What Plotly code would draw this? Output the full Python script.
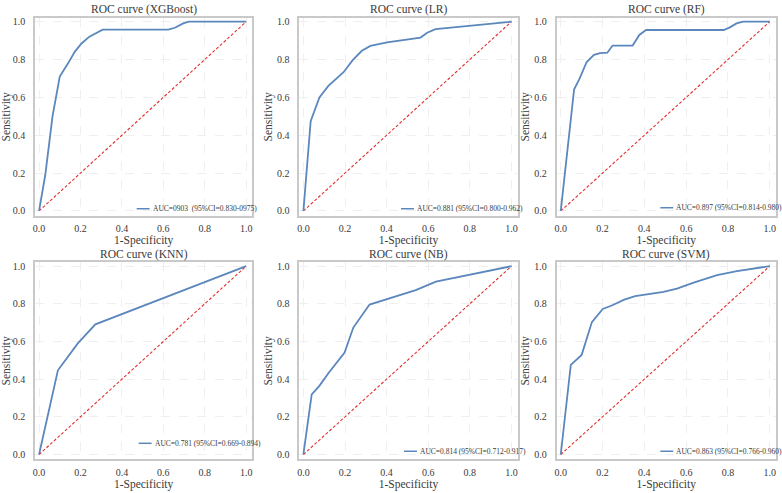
import plotly.graph_objects as go

# ---------------- data ----------------
models = ["XGBoost", "LR", "RF", "KNN", "NB", "SVM"]

xgb_fpr = [0.0, 0.03, 0.065, 0.10, 0.14, 0.173, 0.205, 0.243, 0.307, 0.624, 0.656, 0.696, 0.723, 1.0]
xgb_tpr = [0.0, 0.19, 0.50, 0.71, 0.78, 0.842, 0.885, 0.921, 0.958, 0.958, 0.968, 0.991, 1.0, 1.0]

lr_fpr = [0.0, 0.035, 0.077, 0.12, 0.193, 0.238, 0.281, 0.322, 0.402, 0.563, 0.595, 0.635, 1.0]
lr_tpr = [0.0, 0.474, 0.60, 0.661, 0.733, 0.798, 0.846, 0.872, 0.891, 0.916, 0.942, 0.961, 1.0]

rf_fpr = [0.0, 0.064, 0.089, 0.124, 0.159, 0.188, 0.223, 0.248, 0.344, 0.376, 0.408, 0.780, 0.809, 0.841, 0.873, 1.0]
rf_tpr = [0.0, 0.643, 0.696, 0.787, 0.825, 0.834, 0.836, 0.874, 0.874, 0.930, 0.956, 0.956, 0.970, 0.991, 1.0, 1.0]

knn_fpr = [0.0, 0.091, 0.187, 0.272, 1.0]
knn_tpr = [0.0, 0.447, 0.590, 0.691, 1.0]

nb_fpr = [0.0, 0.04, 0.076, 0.121, 0.198, 0.24, 0.318, 0.540, 0.637, 0.798, 1.0]
nb_tpr = [0.0, 0.319, 0.363, 0.433, 0.541, 0.674, 0.796, 0.873, 0.918, 0.956, 1.0]

svm_fpr = [0.0, 0.048, 0.10, 0.149, 0.201, 0.244, 0.304, 0.356, 0.492, 0.556, 0.636, 0.748, 0.843, 1.0]
svm_tpr = [0.0, 0.476, 0.529, 0.703, 0.773, 0.791, 0.822, 0.841, 0.864, 0.881, 0.913, 0.953, 0.974, 1.0]

auc_labels = [
    "AUC=0903  (95%CI=0.830-0975)",
    "AUC=0.881 (95%CI=0.800-0.962)",
    "AUC=0.897 (95%CI=0.814-0.980)",
    "AUC=0.781 (95%CI=0.669-0.894)",
    "AUC=0.814 (95%CI=0.712-0.917)",
    "AUC=0.863 (95%CI=0.766-0.960)",
]

diag = [0.0, 1.0]
tick_vals = [0.0, 0.2, 0.4, 0.6, 0.8, 1.0]
tick_text = ["0.0", "0.2", "0.4", "0.6", "0.8", "1.0"]

curves = [(xgb_fpr, xgb_tpr), (lr_fpr, lr_tpr), (rf_fpr, rf_tpr),
          (knn_fpr, knn_tpr), (nb_fpr, nb_tpr), (svm_fpr, svm_tpr)]

# ---------------- layout helpers ----------------
W, H = 782, 493
cols = [(33, 251), (298, 517), (556, 776)]
rows = [(16, 215), (262, 460)]
legend_px = [(135, 208), (400, 208), (660, 207), (137, 444), (403, 452), (660, 452)]

BLUE = "#5b87bd"
RED = "#e0302c"
FONT = "Liberation Serif, Times New Roman, serif"
TXT = "#3a3a3a"

def px_x(p):
    return p / W

def px_y(p):
    return 1 - p / H

fig = go.Figure()
annotations = []
shapes = []
layout = {}

for i, (name, (fx, ty)) in enumerate(zip(models, curves)):
    r, c = divmod(i, 3)
    n = i + 1
    xa = "x" if n == 1 else f"x{n}"
    ya = "y" if n == 1 else f"y{n}"
    fig.add_trace(go.Scatter(x=diag, y=diag, mode="lines", xaxis=xa, yaxis=ya,
                             line=dict(color=RED, width=1.1, dash="3px,2px"),
                             showlegend=False, hoverinfo="skip"))
    fig.add_trace(go.Scatter(x=fx, y=ty, mode="lines", xaxis=xa, yaxis=ya,
                             line=dict(color=BLUE, width=1.8),
                             name=auc_labels[i], showlegend=False))
    x0, x1 = cols[c]
    y0, y1 = rows[r]
    common = dict(showline=True, linecolor="#c9c9c9", linewidth=1.5, mirror=True,
                  showgrid=True, gridcolor="#efefef", griddash="dash", gridwidth=0.8,
                  zeroline=False, tickvals=tick_vals, ticktext=tick_text,
                  tickfont=dict(family=FONT, size=10, color=TXT),
                  ticks="", fixedrange=True)
    layout["xaxis" if n == 1 else f"xaxis{n}"] = dict(
        common, domain=[px_x(x0), px_x(x1)], range=[-0.02, 1.03],
        anchor=ya, ticklabelstandoff=3,
        title=dict(text="1-Specificity", standoff=1,
                   font=dict(family=FONT, size=11.5, color=TXT)))
    layout["yaxis" if n == 1 else f"yaxis{n}"] = dict(
        common, domain=[px_y(y1), px_y(y0)], range=[-0.025, 1.02],
        anchor=xa, ticklabelstandoff=6,
        title=dict(text="Sensitivity", standoff=2,
                   font=dict(family=FONT, size=11.5, color=TXT)))
    # subplot title
    annotations.append(dict(text=f"ROC curve ({name})", xref="paper", yref="paper",
                            x=px_x((x0 + x1) / 2), y=px_y(y0 - 8), xanchor="center",
                            yanchor="middle", showarrow=False,
                            font=dict(family=FONT, size=11.5, color=TXT)))
    # legend entry (line sample + text)
    lx, ly = legend_px[i]
    shapes.append(dict(type="line", xref="paper", yref="paper",
                       x0=px_x(lx), x1=px_x(lx + 13), y0=px_y(ly), y1=px_y(ly),
                       line=dict(color=BLUE, width=1.5)))
    annotations.append(dict(text=auc_labels[i], xref="paper", yref="paper",
                            x=px_x(lx + 14), y=px_y(ly), xanchor="left", yanchor="middle",
                            showarrow=False,
                            font=dict(family=FONT, size=7.5, color=TXT)))

fig.update_layout(**layout)
fig.update_layout(width=W, height=H, margin=dict(l=0, r=0, t=0, b=0),
                  paper_bgcolor="white", plot_bgcolor="white",
                  annotations=annotations, shapes=shapes, showlegend=False,
                  font=dict(family=FONT))

fig.write_html("out.html")
